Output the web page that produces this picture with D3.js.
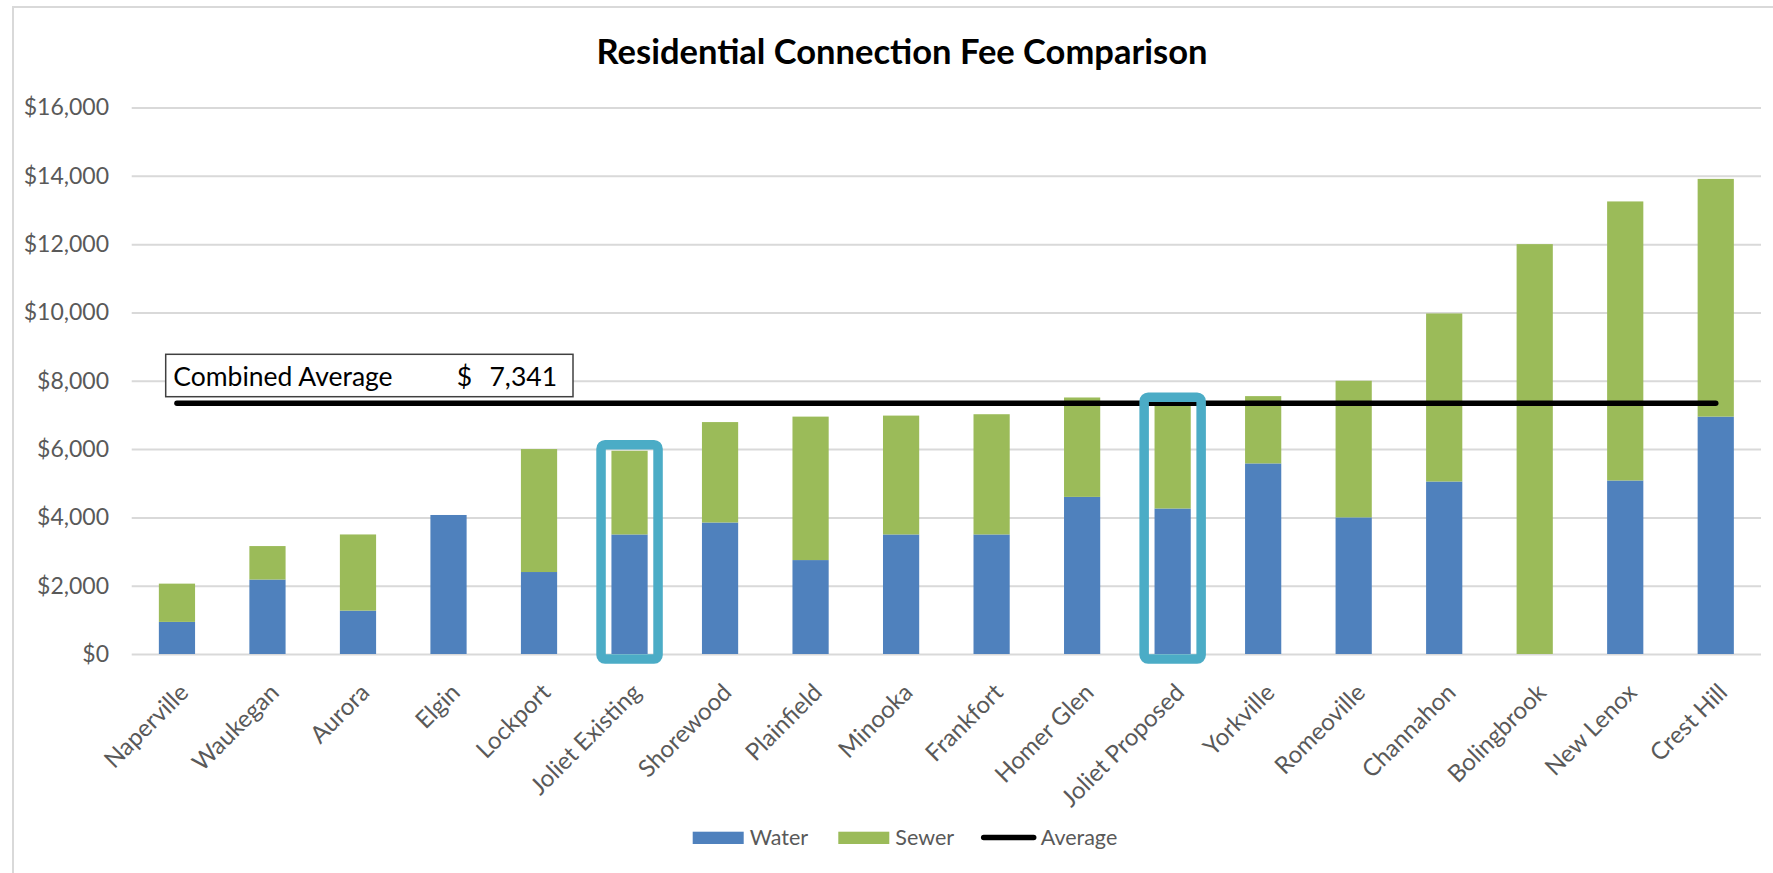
<!DOCTYPE html>
<html>
<head>
<meta charset="utf-8">
<script src="https://cdn.jsdelivr.net/npm/d3@7"></script>
<style>
  body { margin: 0; background: #fff; }
  text { font-family: Lato, "Open Sans", sans-serif; }
</style>
</head>
<body>
<div id="chart"></div>
<script>
// data
const towns = [
  "Naperville", "Waukegan", "Aurora", "Elgin", "Lockport", "Joliet Existing",
  "Shorewood", "Plainfield", "Minooka", "Frankfort", "Homer Glen",
  "Joliet Proposed", "Yorkville", "Romeoville", "Channahon", "Bolingbrook",
  "New Lenox", "Crest Hill",
];
const waterFees = [940, 2180, 1270, 4070, 2400, 3500, 3850, 2750, 3500, 3500, 4600, 4260, 5580, 4000, 5050, 0, 5080, 6950];
const sewerFees = [1120, 980, 2230, 0, 3600, 2450, 2940, 4200, 3480, 3520, 2910, 3080, 1970, 4000, 4920, 12000, 8170, 6960];
const averageFee = 7341;
const highlighted = ["Joliet Existing", "Joliet Proposed"];
const yTicks = [0, 2000, 4000, 6000, 8000, 10000, 12000, 14000, 16000];
const seriesKeys = ["Water", "Sewer"];

const W = 1773, H = 873;
const colors = { Water: "#4f81bd", Sewer: "#9bbb59" };
const textGray = "#595959";

const svg = d3.select("#chart").append("svg")
  .attr("width", W)
  .attr("height", H);

// chart area border
svg.append("rect")
  .attr("x", 13).attr("y", 7)
  .attr("width", W).attr("height", H)
  .attr("fill", "#fff")
  .attr("stroke", "#d9d9d9")
  .attr("stroke-width", 2);

const rows = towns.map((t, i) => ({ town: t, Water: waterFees[i], Sewer: sewerFees[i] }));

const x = d3.scaleBand().domain(towns).range([131.7, 1761]).paddingInner(0.6).paddingOuter(0.3);
const y = d3.scaleLinear().domain([0, 16000]).range([654, 107.5]);

// title
svg.append("text")
  .attr("x", 902).attr("y", 64)
  .attr("text-anchor", "middle")
  .attr("font-size", 34.5)
  .attr("font-weight", 700)
  .attr("fill", "#000")
  .text("Residential Connection Fee Comparison");

// gridlines + y labels
const yAxis = d3.axisLeft(y)
  .tickValues(yTicks)
  .tickSize(-(x.range()[1] - x.range()[0]))
  .tickPadding(22.7)
  .tickFormat(d => "$" + d3.format(",")(d));

svg.append("g")
  .attr("transform", `translate(${x.range()[0]},0)`)
  .call(yAxis)
  .call(g => g.select(".domain").remove())
  .call(g => g.selectAll("line").attr("stroke", "#d9d9d9").attr("stroke-width", 2))
  .call(g => g.selectAll("text").attr("fill", textGray).attr("font-size", 23).style("font-family", "Lato"));

// stacked bars
const stacked = d3.stack().keys(seriesKeys)(rows);

svg.append("g")
  .selectAll("g")
  .data(stacked)
  .join("g")
  .attr("fill", d => colors[d.key])
  .selectAll("rect")
  .data(d => d)
  .join("rect")
  .attr("x", d => x(d.data.town))
  .attr("width", x.bandwidth())
  .attr("y", d => y(d[1]))
  .attr("height", d => y(d[0]) - y(d[1]));

// average line
const avgLine = d3.line()
  .x(d => x(d) + x.bandwidth() / 2)
  .y(() => y(averageFee));

svg.append("path")
  .datum(towns)
  .attr("d", avgLine)
  .attr("fill", "none")
  .attr("stroke", "#000")
  .attr("stroke-width", 5.5)
  .attr("stroke-linecap", "round");

// highlight boxes round the two Joliet bars
svg.append("g")
  .selectAll("rect")
  .data(rows.filter(d => highlighted.includes(d.town)))
  .join("rect")
  .attr("x", d => x(d.town) + x.bandwidth() / 2 - 28.5)
  .attr("width", 57)
  .attr("y", d => y(d.Water + d.Sewer) - 6)
  .attr("height", d => y(0) - y(d.Water + d.Sewer) + 11)
  .attr("rx", 4)
  .attr("fill", "none")
  .attr("stroke", "#4bacc6")
  .attr("stroke-width", 9.5);

// x labels
svg.append("g")
  .selectAll("text")
  .data(towns)
  .join("text")
  .attr("transform", d => `translate(${x(d) + x.bandwidth() / 2 + 13},${694}) rotate(-45)`)
  .attr("text-anchor", "end")
  .attr("font-size", 24)
  .attr("fill", textGray)
  .text(d => d);

// combined average callout
const callout = svg.append("g");
callout.append("rect")
  .attr("x", 165.7).attr("y", 354.3)
  .attr("width", 407.3).attr("height", 42.4)
  .attr("fill", "#fff")
  .attr("stroke", "#404040")
  .attr("stroke-width", 1.5);
callout.append("text")
  .attr("x", 173.3).attr("y", 386)
  .attr("font-size", 26.5)
  .attr("fill", "#000")
  .text("Combined Average");
callout.append("text")
  .attr("x", 456.7).attr("y", 386)
  .attr("font-size", 26.5)
  .attr("fill", "#000")
  .text("$");
callout.append("text")
  .attr("x", 557).attr("y", 386)
  .attr("text-anchor", "end")
  .attr("font-size", 26.5)
  .attr("fill", "#000")
  .text(d3.format(",")(averageFee));

// legend
const legend = svg.append("g");
const legendItems = [
  { label: "Water", x: 692.7, type: "box" },
  { label: "Sewer", x: 838.3, type: "box" },
  { label: "Average", x: 980.7, type: "line" },
];
legendItems.forEach(it => {
  if (it.type === "box") {
    legend.append("rect")
      .attr("x", it.x).attr("y", 831.7)
      .attr("width", 51).attr("height", 12.3)
      .attr("fill", colors[it.label]);
  } else {
    legend.append("line")
      .attr("x1", it.x + 3).attr("x2", it.x + 53)
      .attr("y1", 837.5).attr("y2", 837.5)
      .attr("stroke", "#000")
      .attr("stroke-width", 5.5)
      .attr("stroke-linecap", "round");
  }
  legend.append("text")
    .attr("x", it.x + (it.type === "line" ? 60 : 57)).attr("y", 845)
    .attr("font-size", 21.5)
    .attr("fill", textGray)
    .text(it.label);
});
</script>
</body>
</html>
